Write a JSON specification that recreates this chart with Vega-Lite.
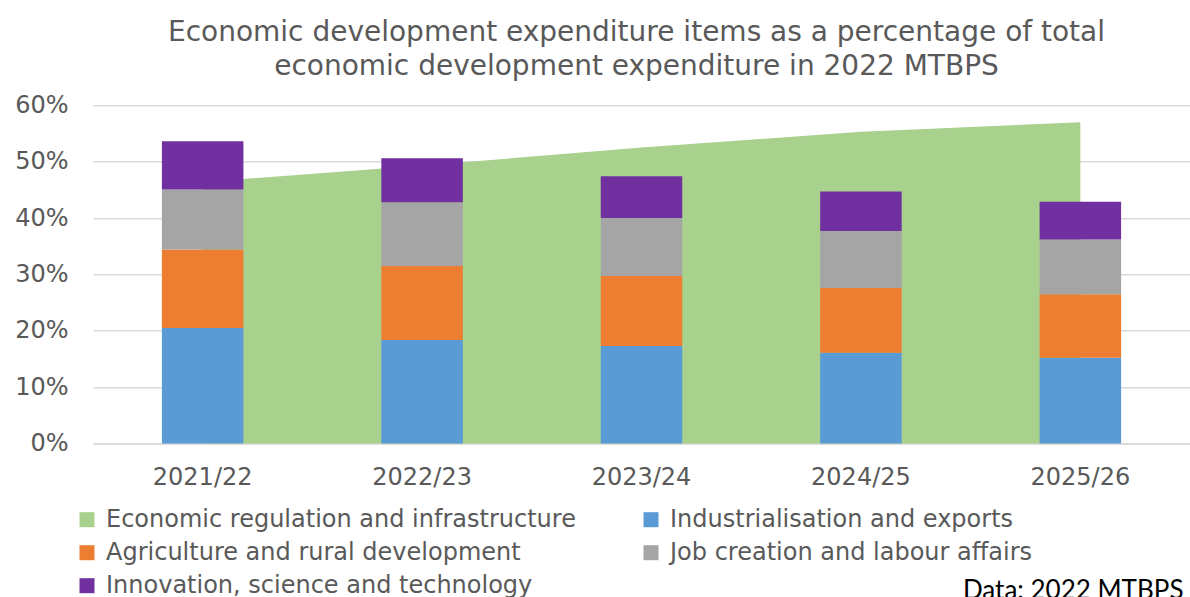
{
  "$schema": "https://vega.github.io/schema/vega-lite/v6.json",
  "width": 1097,
  "height": 338.2,
  "autosize": {"type": "none"},
  "padding": {"left": 93, "top": 105.3, "right": 0, "bottom": 153.5},
  "background": "white",
  "title": {
    "text": ["Economic development expenditure items as a percentage of total", "economic development expenditure in 2022 MTBPS"],
    "font": "DejaVu Sans",
    "fontSize": 28,
    "fontWeight": "normal",
    "color": "#595959",
    "lineHeight": 34.3,
    "anchor": "middle",
    "frame": "group",
    "offset": 12,
    "dx": -5
  },
  "data": {
    "values": [
      {"year": "2021/22", "series": "Economic regulation and infrastructure", "value": 0.464, "order": 0},
      {"year": "2022/23", "series": "Economic regulation and infrastructure", "value": 0.493, "order": 0},
      {"year": "2023/24", "series": "Economic regulation and infrastructure", "value": 0.525, "order": 0},
      {"year": "2024/25", "series": "Economic regulation and infrastructure", "value": 0.553, "order": 0},
      {"year": "2025/26", "series": "Economic regulation and infrastructure", "value": 0.570, "order": 0},
      {"year": "2021/22", "series": "Industrialisation and exports", "value": 0.205, "order": 1},
      {"year": "2022/23", "series": "Industrialisation and exports", "value": 0.1835, "order": 1},
      {"year": "2023/24", "series": "Industrialisation and exports", "value": 0.173, "order": 1},
      {"year": "2024/25", "series": "Industrialisation and exports", "value": 0.161, "order": 1},
      {"year": "2025/26", "series": "Industrialisation and exports", "value": 0.152, "order": 1},
      {"year": "2021/22", "series": "Agriculture and rural development", "value": 0.139, "order": 2},
      {"year": "2022/23", "series": "Agriculture and rural development", "value": 0.1315, "order": 2},
      {"year": "2023/24", "series": "Agriculture and rural development", "value": 0.124, "order": 2},
      {"year": "2024/25", "series": "Agriculture and rural development", "value": 0.115, "order": 2},
      {"year": "2025/26", "series": "Agriculture and rural development", "value": 0.113, "order": 2},
      {"year": "2021/22", "series": "Job creation and labour affairs", "value": 0.1067, "order": 3},
      {"year": "2022/23", "series": "Job creation and labour affairs", "value": 0.113, "order": 3},
      {"year": "2023/24", "series": "Job creation and labour affairs", "value": 0.103, "order": 3},
      {"year": "2024/25", "series": "Job creation and labour affairs", "value": 0.101, "order": 3},
      {"year": "2025/26", "series": "Job creation and labour affairs", "value": 0.097, "order": 3},
      {"year": "2021/22", "series": "Innovation, science and technology", "value": 0.0853, "order": 4},
      {"year": "2022/23", "series": "Innovation, science and technology", "value": 0.078, "order": 4},
      {"year": "2023/24", "series": "Innovation, science and technology", "value": 0.074, "order": 4},
      {"year": "2024/25", "series": "Innovation, science and technology", "value": 0.070, "order": 4},
      {"year": "2025/26", "series": "Innovation, science and technology", "value": 0.067, "order": 4}
    ]
  },
  "layer": [
    {
      "transform": [{"filter": "datum.series === 'Economic regulation and infrastructure'"}],
      "mark": {"type": "area", "opacity": 1},
      "encoding": {
        "x": {
          "field": "year", "type": "nominal", "bandPosition": 0.5,
          "scale": {"paddingInner": 0.6285, "paddingOuter": 0.314},
          "axis": {"title": "Data: 2022 MTBPS"}
        },
        "y": {
          "field": "value", "type": "quantitative", "stack": null,
          "scale": {"domain": [0, 0.6], "nice": false},
          "axis": {"values": [0, 0.1, 0.2, 0.3, 0.4, 0.5, 0.6], "format": ".0%", "title": null}
        },
        "color": {"field": "series", "type": "nominal"}
      }
    },
    {
      "transform": [{"filter": "datum.series !== 'Economic regulation and infrastructure'"}],
      "mark": {"type": "bar"},
      "encoding": {
        "x": {
          "field": "year", "type": "nominal",
          "scale": {"paddingInner": 0.6285, "paddingOuter": 0.314},
          "axis": {"title": "Data: 2022 MTBPS"}
        },
        "y": {
          "field": "value", "type": "quantitative", "stack": "zero",
          "scale": {"domain": [0, 0.6], "nice": false},
          "axis": {"values": [0, 0.1, 0.2, 0.3, 0.4, 0.5, 0.6], "format": ".0%", "title": null}
        },
        "color": {"field": "series", "type": "nominal"},
        "order": {"field": "order", "type": "quantitative", "sort": "ascending"}
      }
    }
  ],
  "resolve": {"scale": {"color": "shared"}},
  "encoding": {
    "color": {
      "field": "series",
      "type": "nominal",
      "scale": {
        "domain": ["Economic regulation and infrastructure", "Industrialisation and exports", "Agriculture and rural development", "Job creation and labour affairs", "Innovation, science and technology"],
        "range": ["#A9D18E", "#5B9BD5", "#ED7D31", "#A5A5A5", "#7030A0"]
      },
      "legend": {
        "title": null,
        "orient": "none",
        "direction": "horizontal",
        "legendX": -18,
        "legendY": 402.4,
        "columns": 2,
        "columnPadding": 63,
        "rowPadding": 9,
        "padding": 0,
        "symbolType": "square",
        "symbolSize": 225,
        "symbolStrokeWidth": 0,
        "symbolOpacity": 1,
        "labelFont": "DejaVu Sans",
        "labelFontSize": 24,
        "labelColor": "#595959",
        "labelLimit": 0,
        "labelOffset": 7
      }
    }
  },
  "config": {
    "view": {"stroke": null},
    "axisX": {
      "labelFont": "DejaVu Sans",
      "labelFontSize": 24,
      "labelColor": "#595959",
      "labelPadding": 22,
      "labelAngle": 0,
      "ticks": false,
      "domainColor": "#d9d9d9",
      "domainWidth": 1.5,
      "grid": false,
      "titleFont": "Lato",
      "titleFontSize": 26,
      "titleFontWeight": "normal",
      "titleColor": "#000000",
      "titleX": 1090,
      "titleY": 154.5,
      "titleAlign": "right",
      "titleAnchor": "end",
      "titleBaseline": "alphabetic"
    },
    "axisY": {
      "labelFont": "DejaVu Sans",
      "labelFontSize": 24,
      "labelColor": "#595959",
      "labelPadding": 25,
      "ticks": false,
      "domain": false,
      "grid": true,
      "gridColor": "#d9d9d9",
      "gridWidth": 1.5
    }
  }
}
